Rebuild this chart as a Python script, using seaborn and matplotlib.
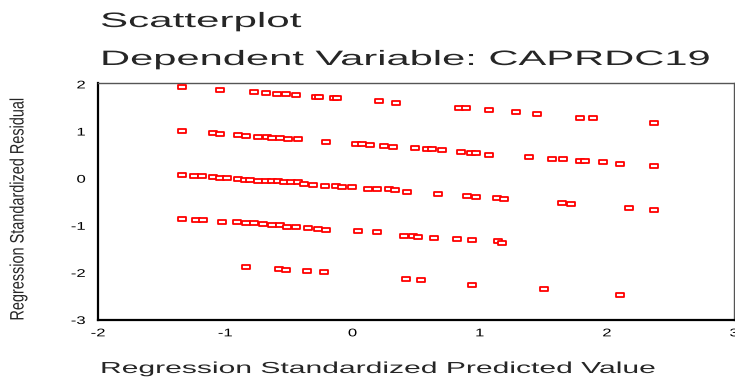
import numpy as np
import pandas as pd
import matplotlib
matplotlib.use("Agg")
import matplotlib.pyplot as plt
import seaborn as sns
from matplotlib.path import Path
from matplotlib.transforms import Affine2D
from matplotlib import patheffects

# ---------------- data ----------------
band1_pred = [-1.339, -1.04, -0.776, -0.677, -0.594, -0.52, -0.443, -0.287, -0.261,
              -0.144, -0.121, 0.207, 0.341, 0.836, 0.89, 1.072, 1.29, 1.454, 1.786,
              1.89, 2.371]
band1_resid = [1.94, 1.88, 1.83, 1.81, 1.79, 1.79, 1.77, 1.73, 1.73,
               1.71, 1.71, 1.64, 1.60, 1.51, 1.49, 1.45, 1.41, 1.38, 1.29,
               1.28, 1.19]

band2_pred = [-1.339, -1.097, -1.04, -0.898, -0.84, -0.742, -0.669, -0.63, -0.573,
              -0.503, -0.425, -0.209, 0.025, 0.076, 0.142, 0.246, 0.323, 0.493,
              0.583, 0.622, 0.708, 0.856, 0.934, 0.973, 1.072, 1.389, 1.573, 1.654,
              1.791, 1.825, 1.974, 2.103, 2.371]
band2_resid = [1.02, 0.97, 0.95, 0.93, 0.90, 0.88, 0.88, 0.86, 0.86,
               0.85, 0.85, 0.78, 0.73, 0.73, 0.71, 0.69, 0.67, 0.65,
               0.62, 0.62, 0.61, 0.56, 0.54, 0.54, 0.51, 0.45, 0.41, 0.41,
               0.37, 0.37, 0.35, 0.31, 0.26]

band3_pred = [-1.339, -1.243, -1.183, -1.093, -1.04, -0.988, -0.903, -0.846, -0.807,
              -0.742, -0.677, -0.63, -0.586, -0.534, -0.482, -0.43, -0.378, -0.308,
              -0.214, -0.131, -0.08, -0.002, 0.123, 0.193, 0.284, 0.331, 0.427,
              0.674, 0.903, 0.973, 1.136, 1.189, 1.648, 1.719, 2.173, 2.371]
band3_resid = [0.08, 0.06, 0.06, 0.04, 0.02, 0.02, 0.00, -0.02, -0.02,
               -0.04, -0.04, -0.06, -0.06, -0.08, -0.08, -0.08, -0.11, -0.13,
               -0.15, -0.15, -0.17, -0.18, -0.21, -0.21, -0.23, -0.25, -0.28,
               -0.33, -0.37, -0.39, -0.41, -0.43, -0.52, -0.54, -0.62, -0.67]

band4_pred = [-1.339, -1.228, -1.175, -1.023, -0.91, -0.84, -0.776, -0.703, -0.633,
              -0.567, -0.513, -0.443, -0.352, -0.269, -0.209, 0.045, 0.193, 0.409,
              0.479, 0.518, 0.641, 0.822, 0.939, 1.142, 1.173]
band4_resid = [-0.85, -0.87, -0.87, -0.91, -0.93, -0.95, -0.95, -0.97, -0.99,
               -0.99, -1.02, -1.02, -1.04, -1.06, -1.08, -1.12, -1.14, -1.21,
               -1.22, -1.23, -1.25, -1.28, -1.31, -1.33, -1.36]

band5_pred = [-0.84, -0.578, -0.521, -0.36, -0.222, 0.422, 0.539, 0.939, 1.506, 2.103]
band5_resid = [-1.88, -1.92, -1.94, -1.96, -1.99, -2.14, -2.16, -2.25, -2.35, -2.48]

xtick_values = [-2, -1, 0, 1, 2, 3]
xtick_labels = ["-2", "-1", "0", "1", "2", "3"]
ytick_values = [-3, -2, -1, 0, 1, 2]
ytick_labels = ["-3", "-2", "-1", "0", "1", "2"]

title_line1 = "Scatterplot"
title_line2 = "Dependent Variable: CAPRDC19"
x_label = "Regression Standardized Predicted Value"
y_label = "Regression Standardized Residual"

df = pd.DataFrame({
    "pred": band1_pred + band2_pred + band3_pred + band4_pred + band5_pred,
    "resid": band1_resid + band2_resid + band3_resid + band4_resid + band5_resid,
})

# ---------------- style ----------------
sns.set_style("white")
plt.rcParams["font.family"] = ["Liberation Sans", "DejaVu Sans"]


class Stretch(patheffects.AbstractPathEffect):
    """Draw text glyphs horizontally stretched (text stays a Text artist)."""

    def __init__(self, sx, anchor="left"):
        super().__init__()
        self.sx = sx
        self.anchor = anchor

    def draw_path(self, renderer, gc, tpath, affine, rgbFace=None):
        xs = tpath.vertices[:, 0] if len(tpath.vertices) else np.array([0.0])
        if self.anchor == "left":
            a = 0.0
        elif self.anchor == "center":
            a = (xs.min() + xs.max()) / 2.0
        else:
            a = xs.max()
        t = Affine2D().translate(-a, 0).scale(self.sx, 1.0).translate(a, 0)
        renderer.draw_path(gc, tpath, t + affine, rgbFace)


W, H = 735, 381
fig = plt.figure(figsize=(W / 100, H / 100), dpi=100)
ax = fig.add_axes([98 / W, (H - 320) / H, (734 - 98) / W, (320 - 83) / H])

rect = Path([(-1, -0.55), (1, -0.55), (1, 0.55), (-1, 0.55), (-1, -0.55)],
            [Path.MOVETO, Path.LINETO, Path.LINETO, Path.LINETO, Path.CLOSEPOLY])

sns.scatterplot(data=df, x="pred", y="resid", ax=ax, marker=rect, s=40,
                color="white", edgecolor="#ff0000", linewidth=1.3, legend=False,
                zorder=3, clip_on=False)

ax.set_xlim(-2, 3)
ax.set_ylim(-3, 2.03)
ax.set_xticks(xtick_values)
ax.set_xticklabels(xtick_labels)
ax.set_yticks(ytick_values)
ax.set_yticklabels(ytick_labels)
ax.tick_params(axis="both", direction="out", length=3, width=1.6, color="black",
               labelsize=8, labelcolor="black")
ax.tick_params(axis="x", pad=3.0)
ax.tick_params(axis="y", pad=6)

for side in ["left", "bottom"]:
    ax.spines[side].set_linewidth(1.6)
    ax.spines[side].set_color("black")
for side in ["top", "right"]:
    ax.spines[side].set_linewidth(1.0)
    ax.spines[side].set_color("#555555")

ax.set_xlabel(x_label, fontsize=11.5, ha="left", va="baseline")
ax.xaxis.set_label_coords(2 / 636, -(373 - 320) / 237)
ax.set_ylabel(y_label, fontsize=14, ha="center", va="center")
ax.yaxis.set_label_coords((19 - 98) / 636, (320 - 207.5) / 237)

t1 = fig.text(100 / W, 1 - 27 / H, title_line1, fontsize=15, ha="left", va="baseline")
t2 = fig.text(100 / W, 1 - 65 / H, title_line2, fontsize=15, ha="left", va="baseline")

# measure natural widths and stretch the text to the reference widths
fig.canvas.draw()
r = fig.canvas.get_renderer()
targets = [(t1, 202, "left", "w"), (t2, 612, "left", "w"),
           (ax.xaxis.label, 557, "left", "w"), (ax.yaxis.label, 225, "center", "h")]
for txt, target, anchor, dim in targets:
    bb = txt.get_window_extent(r)
    nat = bb.width if dim == "w" else bb.height
    txt.set_path_effects([Stretch(target / nat, anchor)])

for lbl in ax.get_xticklabels():
    lbl.set_path_effects([Stretch(1.5, "center")])
for lbl in ax.get_yticklabels():
    lbl.set_path_effects([Stretch(1.5, "right")])

fig.savefig("out.png", dpi=100, facecolor="white")
